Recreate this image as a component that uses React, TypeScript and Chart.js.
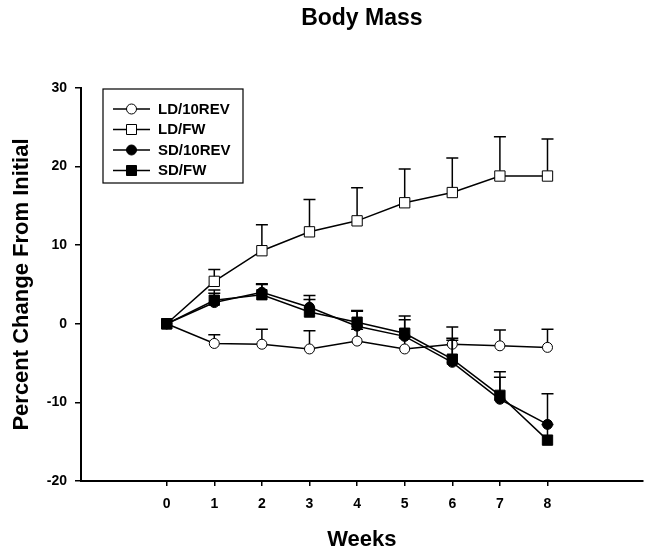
import React, { useEffect, useRef } from "react";
import { Chart, registerables } from "chart.js";

Chart.register(...registerables);

const chartTitle = "Body Mass";
const xTitle = "Weeks";
const yTitle = "Percent Change From Initial";

const weeks = [0, 1, 2, 3, 4, 5, 6, 7, 8];
const yTickValues = [-20, -10, 0, 10, 20, 30];
const seriesLabels = ["LD/10REV", "LD/FW", "SD/10REV", "SD/FW"];

const ld10rev = [0, -2.5, -2.6, -3.2, -2.2, -3.2, -2.6, -2.8, -3.0];
const ld10revErr = [0, 1.1, 1.9, 2.3, 1.5, 1.5, 2.2, 2.0, 2.3];

const ldfw = [0, 5.4, 9.3, 11.7, 13.1, 15.4, 16.7, 18.8, 18.8];
const ldfwErr = [0, 1.5, 3.3, 4.1, 4.2, 4.3, 4.4, 5.0, 4.7];

const sd10rev = [0, 2.7, 4.0, 2.1, -0.3, -1.6, -4.9, -9.6, -12.8];
const sd10revErr = [0, 1.2, 1.1, 1.5, 2.0, 2.1, 2.8, 3.5, 3.9];

const sdfw = [0, 3.0, 3.7, 1.5, 0.2, -1.2, -4.5, -9.1, -14.8];
const sdfwErr = [0, 1.3, 1.3, 1.6, 1.4, 2.2, 2.65, 2.3, 2.0];

const FONT = "'Liberation Sans', Arial, sans-serif";

const errorBarPlugin = {
  id: "errorBars",
  beforeDatasetDraw(chart: any, args: any) {
    const ds = chart.data.datasets[args.index];
    const errs: number[] = ds.errors || [];
    const meta = chart.getDatasetMeta(args.index);
    const yScale = chart.scales.y;
    const ctx = chart.ctx;
    ctx.save();
    ctx.strokeStyle = "#000";
    ctx.lineWidth = 1.5;
    meta.data.forEach((pt: any, j: number) => {
      const e = errs[j];
      if (!e) return;
      const v = ds.data[j].y;
      const x = pt.x;
      const y0 = yScale.getPixelForValue(v);
      const y1 = yScale.getPixelForValue(v + e);
      ctx.beginPath();
      ctx.moveTo(x, y0);
      ctx.lineTo(x, y1);
      ctx.moveTo(x - 6, y1);
      ctx.lineTo(x + 6, y1);
      ctx.stroke();
    });
    ctx.restore();
  },
};

const decorPlugin = {
  id: "decor",
  afterDraw(chart: any) {
    const ctx = chart.ctx;
    const area = chart.chartArea;
    ctx.save();
    // title
    ctx.fillStyle = "#000";
    ctx.font = `bold 23px ${FONT}`;
    ctx.textAlign = "center";
    ctx.textBaseline = "middle";
    ctx.fillText(chartTitle, (area.left + area.right) / 2, 19);

    // legend box
    const bx = area.left + 22;
    const by = area.top + 1;
    const bw = 140;
    const bh = 94;
    ctx.strokeStyle = "#000";
    ctx.lineWidth = 1.2;
    ctx.strokeRect(bx, by, bw, bh);
    const rows = [by + 20, by + 40.5, by + 61, by + 81.5];
    chart.data.datasets.forEach((ds: any, i: number) => {
      const ry = rows[i];
      ctx.beginPath();
      ctx.strokeStyle = "#000";
      ctx.lineWidth = 1.5;
      ctx.moveTo(bx + 10, ry);
      ctx.lineTo(bx + 47, ry);
      ctx.stroke();
      const cx = bx + 28.5;
      ctx.fillStyle = ds.pointBackgroundColor;
      ctx.lineWidth = 1;
      ctx.beginPath();
      if (ds.pointStyle === "circle") {
        ctx.arc(cx, ry, 5, 0, Math.PI * 2);
      } else {
        ctx.rect(cx - 5, ry - 5, 10, 10);
      }
      ctx.fill();
      ctx.stroke();
      ctx.fillStyle = "#000";
      ctx.font = `bold 15px ${FONT}`;
      ctx.textAlign = "left";
      ctx.textBaseline = "middle";
      ctx.fillText(ds.label, bx + 55, ry + 0.5);
    });
    ctx.restore();
  },
};

function makeDataset(label: string, ys: number[], errs: number[], style: string, filled: boolean, order: number) {
  return {
    label,
    data: weeks.map((w, i) => ({ x: w, y: ys[i] })),
    errors: errs,
    borderColor: "#000",
    borderWidth: 1.5,
    pointStyle: style,
    pointRadius: style === "circle" ? 5 : 7.3,
    pointBorderWidth: 1,
    pointBorderColor: "#000",
    pointBackgroundColor: filled ? "#000" : "#fff",
    showLine: true,
    tension: 0,
    order,
  };
}

export default function App() {
  const ref = useRef<HTMLCanvasElement | null>(null);
  useEffect(() => {
    if (!ref.current) return;
    const chart = new Chart(ref.current, {
      type: "scatter",
      data: {
        datasets: [
          makeDataset(seriesLabels[0], ld10rev, ld10revErr, "circle", false, 4),
          makeDataset(seriesLabels[1], ldfw, ldfwErr, "rect", false, 3),
          makeDataset(seriesLabels[2], sd10rev, sd10revErr, "circle", true, 2),
          makeDataset(seriesLabels[3], sdfw, sdfwErr, "rect", true, 1),
        ] as any,
      },
      options: {
        responsive: false,
        animation: false,
        layout: { padding: { top: 88, right: 8, left: 0, bottom: 0 } },
        plugins: {
          legend: { display: false },
          tooltip: { enabled: false },
          title: { display: false },
        },
        scales: {
          x: {
            type: "linear",
            min: -1.8,
            max: 10,
            afterFit(scale: any) {
              scale.height = 75;
            },
            afterBuildTicks(scale: any) {
              scale.ticks = weeks.map((v) => ({ value: v }));
            },
            grid: {
              drawOnChartArea: false,
              drawTicks: true,
              tickLength: 5,
              color: "#000",
              lineWidth: 1.5,
            },
            border: { display: true, color: "#000", width: 2 },
            ticks: {
              color: "#000",
              font: { family: FONT, size: 14, weight: "bold" },
              padding: 10,
              maxRotation: 0,
            },
            title: {
              display: true,
              text: xTitle,
              color: "#000",
              font: { family: FONT, size: 22, weight: "bold" },
              padding: { top: 0, bottom: 3 },
            },
          },
          y: {
            type: "linear",
            min: -20,
            max: 30,
            afterFit(scale: any) {
              scale.width = 81;
            },
            afterBuildTicks(scale: any) {
              scale.ticks = yTickValues.map((v) => ({ value: v }));
            },
            grid: {
              drawOnChartArea: false,
              drawTicks: true,
              tickLength: 6,
              color: "#000",
              lineWidth: 1.5,
            },
            border: { display: true, color: "#000", width: 2 },
            ticks: {
              color: "#000",
              font: { family: FONT, size: 14, weight: "bold" },
              padding: 8,
            },
            title: {
              display: true,
              text: yTitle,
              color: "#000",
              font: { family: FONT, size: 22, weight: "bold" },
              padding: { top: 9, bottom: 0 },
            },
          },
        },
      } as any,
      plugins: [errorBarPlugin, decorPlugin],
    });
    return () => chart.destroy();
  }, []);
  return (
    <div style={{ position: "fixed", left: 0, top: 0, width: 651, height: 556, background: "#fff" }}>
      <canvas ref={ref} width={651} height={556} style={{ display: "block" }} />
    </div>
  );
}
